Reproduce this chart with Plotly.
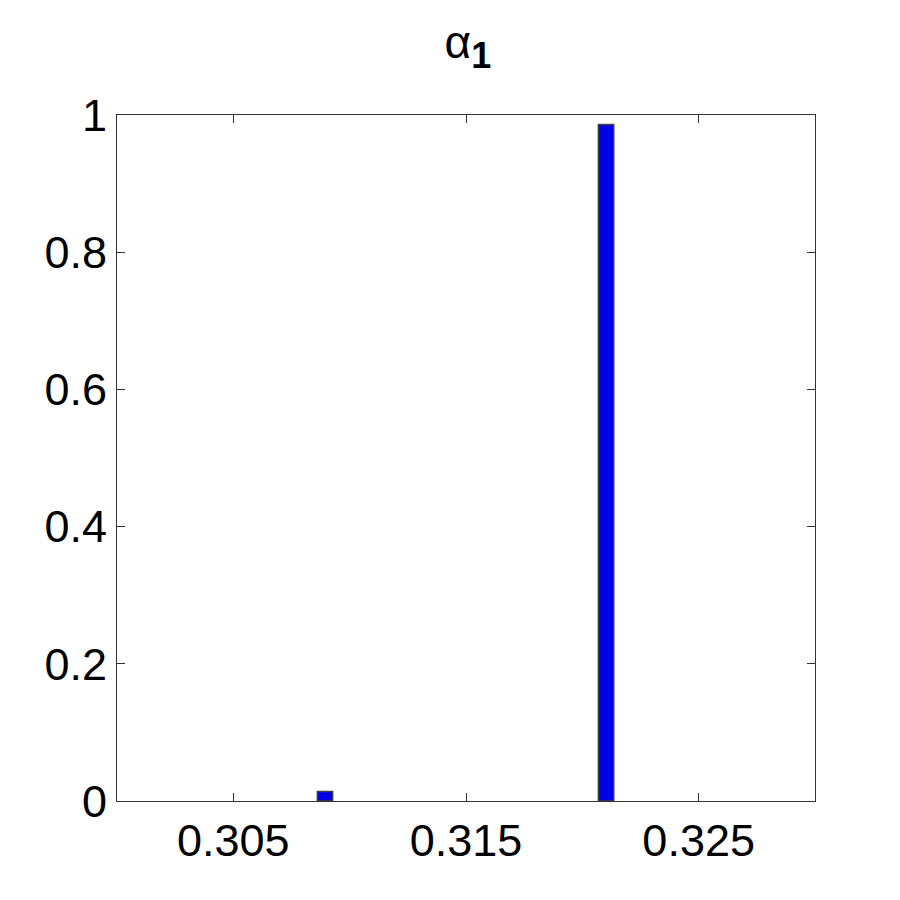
import plotly.graph_objects as go

# Histogram data (bin centres and relative frequencies)
bin_centers = [0.30894, 0.32102]
frequencies = [0.014, 0.986]
bar_width = 0.00066

x_ticks = [0.305, 0.315, 0.325]
x_tick_labels = ["0.305", "0.315", "0.325"]
y_ticks = [0, 0.2, 0.4, 0.6, 0.8, 1]
y_tick_labels = ["0", "0.2", "0.4", "0.6", "0.8", "1"]

fig = go.Figure()
fig.add_trace(go.Bar(
    x=bin_centers,
    y=frequencies,
    width=bar_width,
    marker=dict(color="rgb(0,0,230)", line=dict(color="#404040", width=1.5)),
))

axis_style = dict(
    showline=True, linecolor="#333333", linewidth=1, mirror="ticks",
    ticks="inside", ticklen=8, tickcolor="#333333", tickwidth=1,
    showgrid=False, zeroline=False,
    tickfont=dict(family="Liberation Sans, Arial, sans-serif", size=45, color="black"),
)

fig.update_xaxes(range=[0.300, 0.330], tickvals=x_ticks, ticktext=x_tick_labels, **axis_style)
fig.update_yaxes(range=[0, 1], tickvals=y_ticks, ticktext=y_tick_labels, ticklabelstandoff=0, **axis_style)

fig.update_layout(
    width=900, height=900,
    margin=dict(l=109, r=93, t=107, b=107),
    plot_bgcolor="white", paper_bgcolor="white",
    showlegend=False,
    title=dict(
        text="α<sub><b><span style='font-size:36px'>1</span></b></sub>",
        x=0.511, xanchor="center", y=0.962, yanchor="middle",
        font=dict(family="Liberation Sans, Arial, sans-serif", size=46, color="black"),
    ),
)

fig.write_html("out.html")
